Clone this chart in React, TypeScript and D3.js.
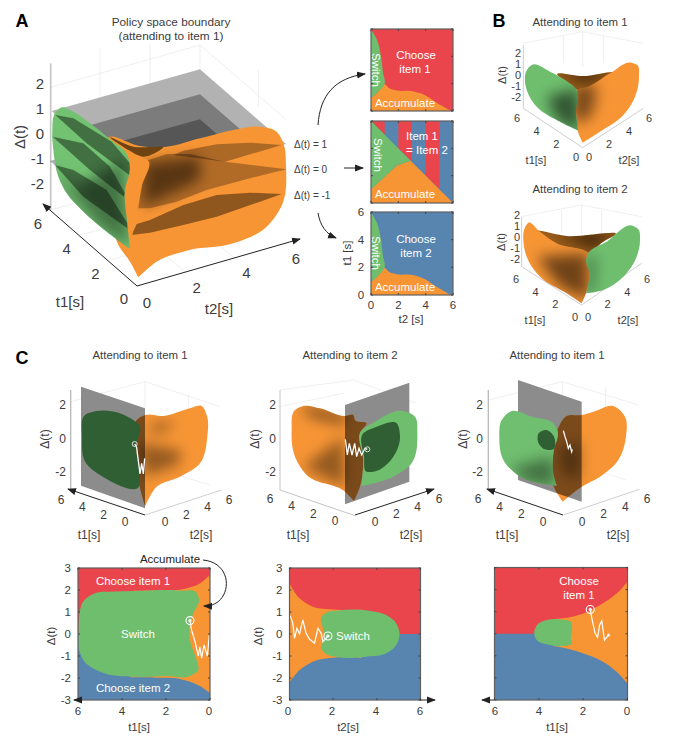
import React from "react";
import * as d3 from "d3";

type P = [number, number];
const RED = "#EA454C", GREEN = "#6FBE6E", ORANGE = "#F79535", BLUE = "#5785B0";
const DGREEN = "#2F5F33", FONT = "'Liberation Sans', Arial, sans-serif", INK = "#3c3c3c";

// ---------- flat policy maps (data coordinates) ----------
const tickT = [0, 2, 4, 6];
const tickD = [3, 2, 1, 0, -1, -2, -3];

const a1Green: P[] = [[0, 6], [0.44, 5.2], [0.73, 4], [0.88, 2.8], [1.0, 2], [0.56, 1.44], [0, 0.93]];
const a1Orange: P[] = [[0, 0.93], [0.56, 1.44], [1.0, 1.95], [1.3, 1.68], [1.9, 1.5], [2.9, 1.46], [3.85, 1.2], [4.8, 0.6], [5.85, 0]];
const a2Green: P[] = [[0, 6], [2.9, 3.1], [1.9, 2.77], [0, 1]];
const a2Orange: P[] = [[0, 1], [1.9, 2.77], [2.9, 3.1], [6, 0], [0, 0]];
const a2RedStripes = [0, 2, 4];

const c1Green: P[] = [[5.16, 1.88], [5.77, 1.47], [5.95, 0.79], [5.98, 0], [5.95, -0.73], [5.7, -1.26], [5.01, -1.71], [3.19, -1.95], [1.97, -1.91], [0.91, -1.91], [0.53, -1.64], [0.61, -1.18], [0.88, -0.42], [0.94, 0.18], [0.76, 0.94], [0.5, 1.55], [0.61, 1.88], [1.37, 1.97], [3.49, 1.95], [4.56, 1.92]];
const c1OrangeUp: P[] = [[0, 2.68], [0.46, 2.3], [1.2, 2.05], [2.4, 1.99], [3.6, 1.96]];
const c1OrangeLow: P[] = [[3.6, -1.97], [2.4, -1.99], [1.37, -2.04], [0.46, -2.36], [0, -2.68]];
const c1Traj: P[] = [[0.91, 0.61], [0.84, 0.18], [0.68, -0.35], [0.53, -1.0], [0.46, -0.58], [0.38, -1.1], [0.27, -0.5], [0.12, -1], [0.03, -0.05]];

const c2Green: P[] = [[1.45, 0.76], [1.68, 0.97], [2.14, 1.06], [3.66, 1.06], [4.43, 0.86], [4.89, 0.48], [5.04, 0], [4.89, -0.5], [4.43, -0.88], [3.51, -1.03], [2.29, -1.06], [1.68, -0.91], [1.45, -0.65], [1.57, -0.27], [1.53, 0.26]];
const c2OrangeUp: P[] = [[0, 2.3], [0.46, 1.62], [1.07, 1.24], [1.83, 1.12], [3.3, 1.1]];
const c2OrangeLow: P[] = [[3.3, -1.08], [1.98, -1.08], [1.07, -1.26], [0.46, -1.64], [0, -2.2]];
const c2Traj: P[] = [[0, 0.86], [0.08, 0.71], [0.15, 0.48], [0.23, -0.2], [0.34, 0.26], [0.46, 0], [0.61, 0.64], [0.76, 0.03], [0.92, -0.24], [1.15, -0.42], [1.3, 0.26], [1.45, 0.03], [1.53, -0.35], [1.76, -0.09]];

const c3Green: P[] = [[4.21, 0], [4.09, 0.39], [3.64, 0.62], [3.04, 0.65], [2.54, 0.52], [2.5, 0.17], [2.56, -0.21], [2.51, -0.44], [2.89, -0.55], [3.64, -0.48], [4.09, -0.29]];
const c3OrangeUp: P[] = [[0, 2.36], [0.48, 1.83], [1.23, 1.3], [1.98, 0.92], [2.74, 0.73], [3.34, 0.67]];
const c3OrangeLow: P[] = [[3.34, -0.56], [2.74, -0.67], [1.98, -0.89], [1.23, -1.2], [0.48, -1.73], [0, -2.26]];
const c3Traj: P[] = [[1.68, 1.1], [1.61, 0.7], [1.46, 0.02], [1.35, -0.17], [1.26, 0.39], [1.16, 0.59], [1.04, -0.29], [0.86, -0.06]];

// ---------- 3D silhouettes, read in 3x-zoom units of each panel ----------
const aPlaneTop: P[] = [[600, 208], [155, 333], [413, 557], [858, 432]];
const aPlaneMid: P[] = [[600, 283], [155, 408], [413, 632], [858, 507]];
const aPlaneLow: P[] = [[600, 358], [150, 483], [408, 707], [858, 582]];
const aOrange: P[] = [[415, 832], [390, 785], [355, 735], [340, 600], [330, 410], [420, 438], [500, 440], [600, 415], [700, 390], [780, 380], [830, 395], [850, 430], [858, 500], [848, 610], [800, 680], [700, 730], [560, 752], [470, 785]];
const aGreen: P[] = [[390, 747], [320, 695], [250, 635], [200, 580], [175, 530], [160, 450], [157, 390], [165, 340], [185, 322], [220, 335], [270, 370], [330, 418], [382, 465], [390, 505], [375, 570], [382, 670]];
const aBack: P[] = [[330, 412], [400, 440], [490, 442], [430, 470], [385, 450]];
const aOB1: P[] = [[845, 435], [750, 428], [650, 433], [550, 452], [520, 465], [675, 485]];
const aOB2: P[] = [[860, 508], [675, 485], [570, 462], [500, 462], [440, 482], [425, 560], [415, 625], [450, 625], [530, 605], [620, 570], [750, 535]];
const aOB3: P[] = [[845, 582], [750, 578], [650, 585], [550, 615], [450, 660], [410, 672], [395, 705], [450, 698], [550, 675], [650, 650], [780, 605]];
const aFold: P[] = [[388, 745], [375, 620], [385, 500], [395, 470], [445, 482], [425, 560], [410, 640], [398, 700]];
const aGB1: P[] = [[166, 345], [220, 355], [335, 425], [390, 490], [388, 525], [260, 430]];
const aGB2: P[] = [[158, 410], [250, 430], [330, 500], [375, 580], [372, 590], [270, 510]];
const aGB3: P[] = [[165, 495], [220, 510], [320, 570], [382, 670], [382, 685], [250, 590]];

const b1Orange: P[] = [[248, 308], [235, 278], [228, 215], [232, 150], [265, 140], [330, 100], [395, 68], [412, 75], [417, 110], [405, 170], [370, 225], [300, 275]];
const b1Back: P[] = [[172, 104], [250, 108], [340, 98], [295, 125], [235, 150], [195, 125]];
const b1Green: P[] = [[235, 272], [170, 240], [110, 200], [82, 155], [75, 125], [78, 95], [95, 75], [150, 95], [195, 120], [230, 150], [228, 220]];
const b1ShadeO: P[] = [[215, 140], [280, 125], [290, 175], [270, 235], [220, 250]];
const b1ShadeG: P[] = [[140, 170], [235, 145], [240, 275], [170, 240]];
const b1ShadeB: P[] = [[170, 95], [340, 90], [260, 130]];
const b2Orange: P[] = [[725, 910], [680, 880], [600, 830], [560, 770], [550, 720], [552, 690], [565, 668], [600, 695], [650, 730], [745, 760], [738, 880]];
const b2Back: P[] = [[590, 693], [680, 708], [825, 705], [790, 725], [745, 758], [650, 732]];
const b2Green: P[] = [[738, 880], [748, 820], [738, 780], [745, 760], [800, 725], [880, 678], [895, 688], [900, 720], [890, 770], [850, 830], [790, 870]];
const b2ShadeO: P[] = [[590, 770], [745, 760], [745, 900], [660, 860]];
const b2ShadeB: P[] = [[640, 700], [830, 700], [760, 745]];

const c1Plane: P[] = [[243, 140], [435, 205], [435, 505], [243, 437]];
const c1SurfO: P[] = [[435, 500], [420, 445], [405, 300], [410, 240], [435, 225], [490, 228], [570, 205], [605, 198], [620, 225], [622, 290], [600, 370], [540, 410], [470, 440]];
const c1SurfG: P[] = [[285, 214], [255, 225], [246, 290], [258, 370], [300, 405], [418, 438], [420, 400], [408, 320], [418, 255], [400, 240]];
const c1Shade1: P[] = [[440, 262], [510, 245], [520, 255], [470, 280]];
const c1Shade2: P[] = [[415, 310], [540, 330], [540, 370], [435, 410]];
const c1Path: P[] = [[404, 312], [410, 322], [412, 340], [416, 370], [420, 402], [425, 370], [430, 402], [434, 355]];

const c2Plane: P[] = [[255, 135], [448, 68], [448, 365], [255, 433]];
const c2SurfO: P[] = [[282, 423], [255, 395], [140, 345], [105, 290], [95, 210], [105, 150], [130, 138], [180, 145], [255, 168], [280, 165], [285, 180], [320, 190], [302, 215], [310, 290], [300, 380]];
const c2SurfG: P[] = [[305, 378], [310, 300], [302, 215], [340, 188], [430, 153], [465, 170], [472, 220], [455, 310], [400, 350]];
const c2Inner: P[] = [[308, 222], [350, 200], [410, 190], [420, 230], [400, 290], [340, 335], [320, 335], [312, 290]];
const c2Shade1: P[] = [[120, 135], [260, 165], [255, 195], [150, 170]];
const c2Shade2: P[] = [[130, 320], [250, 230], [255, 380], [190, 350]];
const c2Path: P[] = [[256, 238], [262, 285], [268, 250], [276, 285], [284, 250], [290, 290], [297, 265], [305, 285], [315, 265], [322, 268]];

const c3Plane: P[] = [[534, 120], [725, 185], [725, 485], [534, 420]];
const c3SurfO: P[] = [[668, 485], [640, 437], [640, 340], [652, 270], [680, 228], [725, 225], [760, 215], [820, 198], [855, 230], [858, 290], [835, 360], [780, 410], [725, 440]];
const c3SurfG: P[] = [[650, 437], [540, 410], [490, 360], [478, 290], [485, 240], [510, 215], [580, 232], [640, 250], [652, 270], [640, 340], [640, 400]];
const c3Inner: P[] = [[618, 270], [596, 280], [594, 305], [615, 328], [640, 328], [642, 290]];
const c3ShadeG: P[] = [[510, 385], [640, 350], [645, 440], [560, 425]];
const c3Path: P[] = [[670, 272], [675, 290], [680, 305], [685, 325], [690, 315], [695, 335], [697, 328]];

// ---------- layout of the 3D axes: end points of each label row ----------
type Ax = { t1: [P, P]; t2: [P, P]; d: [P, P]; dVals: number[]; dDomain: [number, number]; size: number };
const axA: Ax = { t1: [[124, 298], [38, 223]], t2: [[147, 302], [296, 258]], d: [[44, 83], [44, 183]], dVals: [2, 1, 0, -1, -2], dDomain: [2, -2], size: 15 };
const axB1: Ax = { t1: [[576, 157], [517, 118]], t2: [[589, 157], [649, 118]], d: [[521, 53], [521, 97]], dVals: [2, 1, 0, -1, -2], dDomain: [2, -2], size: 11 };
const axB2: Ax = { t1: [[575, 317], [516, 279]], t2: [[588, 317], [647, 279]], d: [[520, 215], [520, 259]], dVals: [2, 1, 0, -1, -2], dDomain: [2, -2], size: 11 };
const axC1: Ax = { t1: [[125, 522], [61, 500]], t2: [[165, 522], [229, 500]], d: [[66, 405], [66, 472]], dVals: [2, 0, -2], dDomain: [2, -2], size: 12 };
const axC2: Ax = { t1: [[335, 521], [270, 499]], t2: [[375, 522], [439, 499]], d: [[276, 405], [276, 472]], dVals: [2, 0, -2], dDomain: [2, -2], size: 12 };
const axC3: Ax = { t1: [[543, 522], [478, 499]], t2: [[582, 522], [647, 499]], d: [[483, 405], [483, 472]], dVals: [2, 0, -2], dDomain: [2, -2], size: 12 };

const view = (x0: number, y0: number) => {
  const x = d3.scaleLinear().domain([0, 3]).range([x0, x0 + 1]);
  const y = d3.scaleLinear().domain([0, 3]).range([y0, y0 + 1]);
  const smooth = d3.line<P>().x((p) => x(p[0])).y((p) => y(p[1])).curve(d3.curveCatmullRomClosed.alpha(1));
  const poly = d3.line<P>().x((p) => x(p[0])).y((p) => y(p[1]));
  const open = d3.line<P>().x((p) => x(p[0])).y((p) => y(p[1])).curve(d3.curveCatmullRom.alpha(1));
  return {
    x, y,
    smooth: (p: P[]) => smooth(p) || "",
    poly: (p: P[]) => (poly(p) || "") + "Z",
    line: (p: P[]) => poly(p) || "",
    // smooth outline with one sharp corner at its first point
    tip: (p: P[]) => (open([...p, p[0]]) || "") + "Z",
  };
};
const vA = view(0, 0), vB1 = view(500, 40), vB2 = view(340, 0), vC1 = view(0, 340), vC2 = view(260, 360), vC3 = view(340, 340);

const Txt = ({ x, y, s = 11.5, fill = INK, anchor = "middle", rot, w, children }: any) => (
  <text x={x} y={y} fontSize={s} fill={fill} textAnchor={anchor} dominantBaseline="central" fontFamily={FONT} fontWeight={w}
    transform={rot != null ? `rotate(${rot} ${x} ${y})` : undefined}>{children}</text>
);

const Surf = ({ id, d, fill, shades = [], sharp = [] }: { id: string; d: string; fill: string; shades?: { d: string; o: number; c?: string }[]; sharp?: { d: string; o: number; c?: string }[] }) => (
  <g>
    <clipPath id={id}><path d={d} /></clipPath>
    <path d={d} fill={fill} />
    <g clipPath={`url(#${id})`}>
      <g filter="url(#soft)">
        {shades.map((s, i) => <path key={i} d={s.d} fill={s.c || "#000"} opacity={s.o} />)}
      </g>
      {sharp.map((s, i) => <path key={i} d={s.d} fill={s.c || "#000"} opacity={s.o} />)}
    </g>
  </g>
);

const Axis3 = ({ ax, t1L, t2L, dL }: { ax: Ax; t1L: P; t2L: P; dL: P }) => {
  const lerp = (e: [P, P]) => (v: number): P => [
    d3.scaleLinear().domain([0, 6]).range([e[0][0], e[1][0]])(v),
    d3.scaleLinear().domain([0, 6]).range([e[0][1], e[1][1]])(v),
  ];
  const dy = d3.scaleLinear().domain(ax.dDomain).range([ax.d[0][1], ax.d[1][1]]);
  const a = lerp(ax.t1), b = lerp(ax.t2);
  return (
    <g>
      {tickT.map((t) => <Txt key={"a" + t} x={a(t)[0]} y={a(t)[1]} s={ax.size}>{t}</Txt>)}
      {tickT.map((t) => <Txt key={"b" + t} x={b(t)[0]} y={b(t)[1]} s={ax.size}>{t}</Txt>)}
      {ax.dVals.map((v) => <Txt key={"d" + v} x={ax.d[0][0]} y={dy(v)} s={ax.size} anchor="end">{v}</Txt>)}
      <Txt x={t1L[0]} y={t1L[1]} s={ax.size}>t1[s]</Txt>
      <Txt x={t2L[0]} y={t2L[1]} s={ax.size}>t2[s]</Txt>
      <Txt x={dL[0]} y={dL[1]} s={ax.size} rot={-90}>Δ(t)</Txt>
    </g>
  );
};

const Flat = ({ x, y, w, h, xd, yd, bg, ticksX, ticksY, children }: any) => {
  const sx = d3.scaleLinear().domain(xd).range([x, x + w]);
  const sy = d3.scaleLinear().domain(yd).range([y + h, y]);
  const curve = d3.line<P>().x((p) => sx(p[0])).y((p) => sy(p[1])).curve(d3.curveCatmullRom.alpha(1));
  const closed = d3.line<P>().x((p) => sx(p[0])).y((p) => sy(p[1])).curve(d3.curveCatmullRomClosed.alpha(1));
  const straight = d3.line<P>().x((p) => sx(p[0])).y((p) => sy(p[1]));
  const wedge = (up: P[], low: P[]) => (curve(up) || "") + "L" + (curve(low) || "").slice(1) + "Z";
  const id = `f${Math.round(x)}_${Math.round(y)}`;
  return (
    <g>
      <clipPath id={id}><rect x={x} y={y} width={w} height={h} /></clipPath>
      <g clipPath={`url(#${id})`}>
        {bg === "split" ? (
          <g>
            <rect x={x} y={y} width={w} height={h} fill={RED} />
            <rect x={x} y={sy(0)} width={w} height={y + h - sy(0)} fill={BLUE} />
          </g>
        ) : <rect x={x} y={y} width={w} height={h} fill={bg} />}
        {children({ sx, sy, curve, closed, straight, wedge })}
      </g>
      <rect x={x} y={y} width={w} height={h} fill="none" stroke="#5f5f5f" strokeWidth={1.2} />
      {ticksX.map((t: number) => (
        <g key={"x" + t}>
          <line x1={sx(t)} x2={sx(t)} y1={y} y2={y + 2} stroke="#444" />
          <line x1={sx(t)} x2={sx(t)} y1={y + h} y2={y + h - 2} stroke="#444" />
        </g>
      ))}
      {ticksY.map((t: number) => (
        <g key={"y" + t}>
          <line x1={x} x2={x + 2} y1={sy(t)} y2={sy(t)} stroke="#444" />
          <line x1={x + w} x2={x + w - 2} y1={sy(t)} y2={sy(t)} stroke="#444" />
        </g>
      ))}
    </g>
  );
};

const Marker = ({ sx, sy, p }: any) => (
  <g>
    <circle cx={sx(p[0])} cy={sy(p[1])} r={4} fill="none" stroke="#fff" strokeWidth={1.1} />
    <circle cx={sx(p[0])} cy={sy(p[1])} r={1.6} fill="#fff" />
  </g>
);

const GridA = ({ v, lines }: { v: ReturnType<typeof view>; lines: P[][] }) => (
  <g stroke="#e8e8e8" strokeWidth={0.7} fill="none">{lines.map((l, i) => <path key={i} d={v.line(l)} />)}</g>
);

export default function App() {
  return (
    <svg width={675} height={741} style={{ position: "absolute", left: 0, top: 0, background: "#fff" }}>
      <defs>
        <filter id="soft" filterUnits="userSpaceOnUse" x={0} y={0} width={675} height={741}><feGaussianBlur stdDeviation={7} /></filter>
        <marker id="ah" markerUnits="userSpaceOnUse" markerWidth={9} markerHeight={8} refX={8} refY={4} orient="auto"><path d="M0,0.5L9,4L0,7.5Z" fill="#222" /></marker>
      </defs>

      <Txt x={22} y={21} s={18} fill="#000" w="bold">A</Txt>
      <Txt x={499} y={21} s={18} fill="#000" w="bold">B</Txt>
      <Txt x={22} y={358} s={18} fill="#000" w="bold">C</Txt>
      <Txt x={171} y={22} s={11.8}>Policy space boundary</Txt>
      <Txt x={171} y={36} s={11.8}>(attending to item 1)</Txt>

      {/* Panel A */}
      <GridA v={vA} lines={[[[600, 135], [152, 262]], [[600, 135], [860, 360]], [[600, 135], [600, 210]], [[450, 130], [450, 250]], [[300, 145], [300, 290]], [[775, 210], [775, 320]], [[150, 630], [600, 510]], [[240, 705], [700, 580]], [[330, 780], [780, 650]], [[560, 820], [300, 600]], [[710, 780], [450, 560]]]} />
      <line x1={vA.x(152)} y1={vA.y(190)} x2={vA.x(152)} y2={vA.y(630)} stroke="#c4c4c4" strokeWidth={1.6} />
      {[aPlaneTop, aPlaneMid, aPlaneLow].map((p, i) => <path key={i} d={vA.poly(p)} fill="#000" opacity={0.3} />)}
      <Surf id="aO" d={vA.tip(aOrange)} fill={ORANGE}
        shades={[{ d: vA.poly([[430, 490], [600, 470], [600, 540], [430, 620]]), o: 0.5 }]}
        sharp={[{ d: vA.poly(aOB1), o: 0.3 }, { d: vA.poly(aOB2), o: 0.28 }, { d: vA.poly(aOB3), o: 0.42 }]} />
      <path d={vA.tip(aFold)} fill={ORANGE} />
      <path d={vA.smooth(aBack)} fill="#6d4312" />
      <Surf id="aG" d={vA.tip(aGreen)} fill="#72C272"
        shades={[{ d: vA.poly([[230, 560], [370, 480], [385, 740], [300, 680]]), o: 0.4 }, { d: vA.poly([[160, 500], [240, 560], [300, 680], [200, 590]]), o: 0.22 }]}
        sharp={[{ d: vA.poly(aGB1), o: 0.42 }, { d: vA.poly(aGB2), o: 0.42 }, { d: vA.poly(aGB3), o: 0.42 }]} />
      <path d="M137,286L43,204" stroke="#222" fill="none" markerEnd="url(#ah)" />
      <path d="M137,286L300,239" stroke="#222" fill="none" markerEnd="url(#ah)" />
      <Axis3 ax={axA} t1L={[70, 301]} t2L={[219, 308]} dL={[19, 137]} />
      <Txt x={294} y={144} s={10} anchor="start">Δ(t) = 1</Txt>
      <Txt x={294} y={169} s={10} anchor="start">Δ(t) = 0</Txt>
      <Txt x={294} y={195} s={10} anchor="start">Δ(t) = -1</Txt>
      <path d="M318,125C320,95 335,78 365,74" stroke="#222" fill="none" markerEnd="url(#ah)" />
      <path d="M344,168L363,168" stroke="#222" fill="none" markerEnd="url(#ah)" />
      <path d="M318,213C320,225 326,234 336,238" stroke="#222" fill="none" markerEnd="url(#ah)" />

      <Flat x={371} y={29} w={82} h={82} xd={[0, 6]} yd={[0, 6]} bg={RED} ticksX={tickT} ticksY={tickT}>
        {({ sx, sy, curve }: any) => (
          <g>
            <path d={curve(a1Orange) + `L${sx(0)},${sy(0)}Z`} fill={ORANGE} />
            <path d={curve(a1Green) + "Z"} fill={GREEN} />
          </g>
        )}
      </Flat>
      <Flat x={371} y={121} w={82} h={82} xd={[0, 6]} yd={[0, 6]} bg={BLUE} ticksX={tickT} ticksY={tickT}>
        {({ straight }: any) => (
          <g>
            {a2RedStripes.map((s) => <path key={s} d={straight([[s, 6], [s + 1, 6], [s + 1, 5 - s], [s, 6 - s]]) + "Z"} fill={RED} />)}
            <path d={straight(a2Orange) + "Z"} fill={ORANGE} />
            <path d={straight(a2Green) + "Z"} fill={GREEN} />
          </g>
        )}
      </Flat>
      <Flat x={371} y={212} w={82} h={83} xd={[0, 6]} yd={[0, 6]} bg={BLUE} ticksX={tickT} ticksY={tickT}>
        {({ sx, sy, curve }: any) => (
          <g>
            <path d={curve(a1Orange) + `L${sx(0)},${sy(0)}Z`} fill={ORANGE} />
            <path d={curve(a1Green) + "Z"} fill={GREEN} />
          </g>
        )}
      </Flat>
      <Txt x={416} y={55} fill="#fff">Choose</Txt>
      <Txt x={415} y={69} fill="#fff">item 1</Txt>
      <Txt x={376} y={70} fill="#fff" rot={90}>Switch</Txt>
      <Txt x={405} y={103} fill="#fff">Accumulate</Txt>
      <Txt x={422} y={136} fill="#fff">Item 1</Txt>
      <Txt x={427} y={150} fill="#fff">= Item 2</Txt>
      <Txt x={378} y={155} fill="#fff" rot={90}>Switch</Txt>
      <Txt x={405} y={194} fill="#fff">Accumulate</Txt>
      <Txt x={416} y={239} fill="#fff">Choose</Txt>
      <Txt x={416} y={253} fill="#fff">item 2</Txt>
      <Txt x={376} y={253} fill="#fff" rot={90}>Switch</Txt>
      <Txt x={405} y={287} fill="#fff">Accumulate</Txt>
      {tickT.map((t) => <Txt key={t} x={d3.scaleLinear().domain([0, 6]).range([371, 453])(t)} y={305}>{t}</Txt>)}
      {tickT.map((t) => <Txt key={t} x={361} y={d3.scaleLinear().domain([0, 6]).range([295, 212])(t)}>{t}</Txt>)}
      <Txt x={411} y={319}>t2 [s]</Txt>
      <Txt x={347} y={253} rot={-90}>t1 [s]</Txt>

      {/* Panel B */}
      <Txt x={580} y={22} s={11.4}>Attending to item 1</Txt>
      <GridA v={vB2} lines={[[[550, 130], [728, 95]], [[728, 95], [908, 130]], [[728, 95], [728, 200]], [[670, 110], [670, 190]], [[790, 110], [790, 190]]]} />
      <path d={vB2.line([[550, 135], [550, 325], [728, 443], [910, 325]])} fill="none" stroke="#cfcfcf" />
      <Surf id="b1B" d={vB1.smooth(b1Back)} fill="#9a5c1a" shades={[{ d: vB1.poly(b1ShadeB), o: 0.65 }]} />
      <Surf id="b1O" d={vB1.tip(b1Orange)} fill={ORANGE} shades={[{ d: vB1.poly(b1ShadeO), o: 0.5 }]} />
      <Surf id="b1G" d={vB1.tip(b1Green)} fill="#6FBE6E" shades={[{ d: vB1.poly(b1ShadeG), o: 0.55 }]} />
      <Axis3 ax={axB1} t1L={[536, 160]} t2L={[629, 160]} dL={[502, 75]} />

      <Txt x={580} y={189} s={11.4}>Attending to item 2</Txt>
      <GridA v={vB2} lines={[[[545, 650], [725, 615]], [[725, 615], [905, 650]], [[725, 615], [725, 710]], [[665, 630], [665, 700]], [[785, 630], [785, 700]]]} />
      <path d={vB2.line([[545, 650], [545, 800], [725, 915], [905, 790]])} fill="none" stroke="#cfcfcf" />
      <Surf id="b2B" d={vB2.smooth(b2Back)} fill="#9a5c1a" shades={[{ d: vB2.poly(b2ShadeB), o: 0.65 }]} />
      <Surf id="b2O" d={vB2.tip(b2Orange)} fill={ORANGE} shades={[{ d: vB2.poly(b2ShadeO), o: 0.55 }]} />
      <Surf id="b2G" d={vB2.tip(b2Green)} fill="#6FBE6E" shades={[{ d: vB2.poly([[740, 770], [770, 770], [760, 880], [735, 880]]), o: 0.35 }]} />
      <Axis3 ax={axB2} t1L={[535, 320]} t2L={[628, 320]} dL={[501, 242]} />

      {/* Panel C, 3D row */}
      <Txt x={140} y={355} s={11.4}>Attending to item 1</Txt>
      <GridA v={vC1} lines={[[[212, 185], [435, 125]], [[435, 125], [660, 200]], [[435, 125], [435, 205]], [[305, 155], [305, 170]], [[565, 165], [565, 210]], [[630, 435], [435, 375]]]} />
      <path d={vC1.line([[212, 150], [212, 450]])} stroke="#bbb" strokeWidth={1.4} />
      <path d={vC1.line([[435, 525], [665, 450]])} stroke="#cfcfcf" fill="none" />
      <path d={vC1.poly(c1Plane)} fill="#8c8c8c" />
      <Surf id="c1O" d={vC1.tip(c1SurfO)} fill={ORANGE} shades={[{ d: vC1.poly(c1Shade1), o: 0.5 }, { d: vC1.poly(c1Shade2), o: 0.4 }]} sharp={[{ d: vC1.poly(c1Plane), o: 0.5 }]} />
      <path d={vC1.smooth(c1SurfG)} fill={DGREEN} />
      <path d={vC1.line(c1Path)} stroke="#fff" fill="none" strokeWidth={1.3} />
      <circle cx={vC1.x(404)} cy={vC1.y(312)} r={2.5} fill="none" stroke="#ddd" />
      <path d="M145,515L68,489" stroke="#222" fill="none" markerEnd="url(#ah)" />
      <Axis3 ax={axC1} t1L={[89, 535]} t2L={[201, 535]} dL={[45, 439]} />

      <Txt x={350} y={355} s={11.4}>Attending to item 2</Txt>
      <GridA v={vC2} lines={[[[60, 90], [280, 60]], [[280, 60], [470, 130]], [[60, 140], [250, 100]], [[465, 330], [280, 270]]]} />
      <path d={vC2.line([[60, 90], [60, 390], [285, 467]])} stroke="#c4c4c4" fill="none" />
      <path d={vC2.poly(c2Plane)} fill="#8c8c8c" />
      <Surf id="c2O" d={vC2.tip(c2SurfO)} fill={ORANGE} shades={[{ d: vC2.poly(c2Shade1), o: 0.5 }, { d: vC2.poly(c2Shade2), o: 0.4 }]} sharp={[{ d: vC2.poly(c2Plane), o: 0.5 }]} />
      <path d={vC2.tip(c2SurfG)} fill={GREEN} />
      <path d={vC2.smooth(c2Inner)} fill={DGREEN} />
      <path d={vC2.line(c2Path)} stroke="#fff" fill="none" strokeWidth={1.3} />
      <circle cx={vC2.x(322)} cy={vC2.y(268)} r={2.5} fill="none" stroke="#ddd" />
      <path d="M355,515L434,489" stroke="#222" fill="none" markerEnd="url(#ah)" />
      <Axis3 ax={axC2} t1L={[298, 535]} t2L={[411, 535]} dL={[255, 439]} />

      <Txt x={557} y={355} s={11.4}>Attending to item 1</Txt>
      <GridA v={vC3} lines={[[[445, 180], [667, 125]], [[667, 125], [895, 195]], [[667, 125], [667, 175]], [[797, 145], [797, 210]], [[860, 420], [667, 360]]]} />
      <path d={vC3.line([[445, 150], [445, 450]])} stroke="#bbb" strokeWidth={1.4} />
      <path d={vC3.line([[670, 525], [898, 448]])} stroke="#cfcfcf" fill="none" />
      <path d={vC3.poly(c3Plane)} fill="#8c8c8c" />
      <Surf id="c3O" d={vC3.tip(c3SurfO)} fill={ORANGE} shades={[{ d: vC3.poly([[655, 330], [720, 300], [720, 420], [670, 400]]), o: 0.35 }]} sharp={[{ d: vC3.poly(c3Plane), o: 0.5 }]} />
      <Surf id="c3G" d={vC3.tip(c3SurfG)} fill="#70BE6F" shades={[{ d: vC3.poly(c3ShadeG), o: 0.4 }]} />
      <path d={vC3.smooth(c3Inner)} fill={DGREEN} />
      <path d={vC3.line(c3Path)} stroke="#fff" fill="none" strokeWidth={1.3} />
      <path d="M563,515L487,489" stroke="#222" fill="none" markerEnd="url(#ah)" />
      <Axis3 ax={axC3} t1L={[507, 535]} t2L={[618, 535]} dL={[463, 439]} />

      {/* Panel C, flat row */}
      <Flat x={78} y={568} w={132} h={132} xd={[6, 0]} yd={[-3, 3]} bg="split" ticksX={tickT} ticksY={tickD}>
        {({ sx, sy, closed, straight, wedge }: any) => (
          <g>
            <path d={wedge(c1OrangeUp, c1OrangeLow)} fill={ORANGE} />
            <path d={closed(c1Green)} fill={GREEN} />
            <path d={straight(c1Traj)} stroke="#fff" fill="none" strokeWidth={1.2} />
            <Marker sx={sx} sy={sy} p={c1Traj[0]} />
          </g>
        )}
      </Flat>
      <Txt x={133} y={581} fill="#fff">Choose item 1</Txt>
      <Txt x={138} y={634} fill="#fff">Switch</Txt>
      <Txt x={133} y={688} fill="#fff">Choose item 2</Txt>
      <Txt x={170} y={559} s={11.5} fill="#222">Accumulate</Txt>
      <path d="M203,560C236,563 232,607 204,606" stroke="#222" fill="none" markerEnd="url(#ah)" />
      <path d="M78,700L74,700" stroke="#222" fill="none" markerEnd="url(#ah)" />

      <Flat x={289.5} y={568} w={131} h={132} xd={[0, 6]} yd={[-3, 3]} bg="split" ticksX={tickT} ticksY={tickD}>
        {({ sx, sy, closed, straight, wedge }: any) => (
          <g>
            <path d={wedge(c2OrangeUp, c2OrangeLow)} fill={ORANGE} />
            <path d={closed(c2Green)} fill={GREEN} />
            <path d={straight(c2Traj)} stroke="#fff" fill="none" strokeWidth={1.2} />
            <Marker sx={sx} sy={sy} p={c2Traj[c2Traj.length - 1]} />
          </g>
        )}
      </Flat>
      <Txt x={353} y={636} fill="#fff">Switch</Txt>
      <path d="M420,700L435,700" stroke="#222" fill="none" markerEnd="url(#ah)" />

      <Flat x={494.5} y={567.5} w={133} h={132.5} xd={[6, 0]} yd={[-3, 3]} bg="split" ticksX={tickT} ticksY={tickD}>
        {({ sx, sy, closed, straight, wedge }: any) => (
          <g>
            <path d={wedge(c3OrangeUp, c3OrangeLow)} fill={ORANGE} />
            <path d={closed(c3Green)} fill={GREEN} />
            <path d={straight(c3Traj)} stroke="#fff" fill="none" strokeWidth={1.2} />
            <Marker sx={sx} sy={sy} p={c3Traj[0]} />
            <circle cx={sx(0.86)} cy={sy(-0.06)} r={1.5} fill="#fff" />
          </g>
        )}
      </Flat>
      <Txt x={579} y={581} fill="#fff">Choose</Txt>
      <Txt x={579} y={595} fill="#fff">item 1</Txt>
      <path d="M494,700L482,700" stroke="#222" fill="none" markerEnd="url(#ah)" />

      {[78, 289.5].map((x0) => tickD.map((v) => (
        <Txt key={x0 + "d" + v} x={x0 - 7} y={d3.scaleLinear().domain([-3, 3]).range([700, 568])(v)} s={11.5} anchor="end">{v}</Txt>
      )))}
      {[[6, 78], [4, 122], [2, 166], [0, 209]].map(([t, x]) => <Txt key={"p" + t} x={x} y={711}>{t}</Txt>)}
      {tickT.map((t) => <Txt key={"q" + t} x={d3.scaleLinear().domain([0, 6]).range([288, 420])(t)} y={711}>{t}</Txt>)}
      {tickT.map((t) => <Txt key={"r" + t} x={d3.scaleLinear().domain([6, 0]).range([495, 627])(t)} y={711}>{t}</Txt>)}
      <Txt x={139} y={727}>t1[s]</Txt>
      <Txt x={348} y={727}>t2[s]</Txt>
      <Txt x={557} y={727}>t1[s]</Txt>
      <Txt x={51} y={636} rot={-90}>Δ(t)</Txt>
      <Txt x={258} y={636} rot={-90}>Δ(t)</Txt>
    </svg>
  );
}
